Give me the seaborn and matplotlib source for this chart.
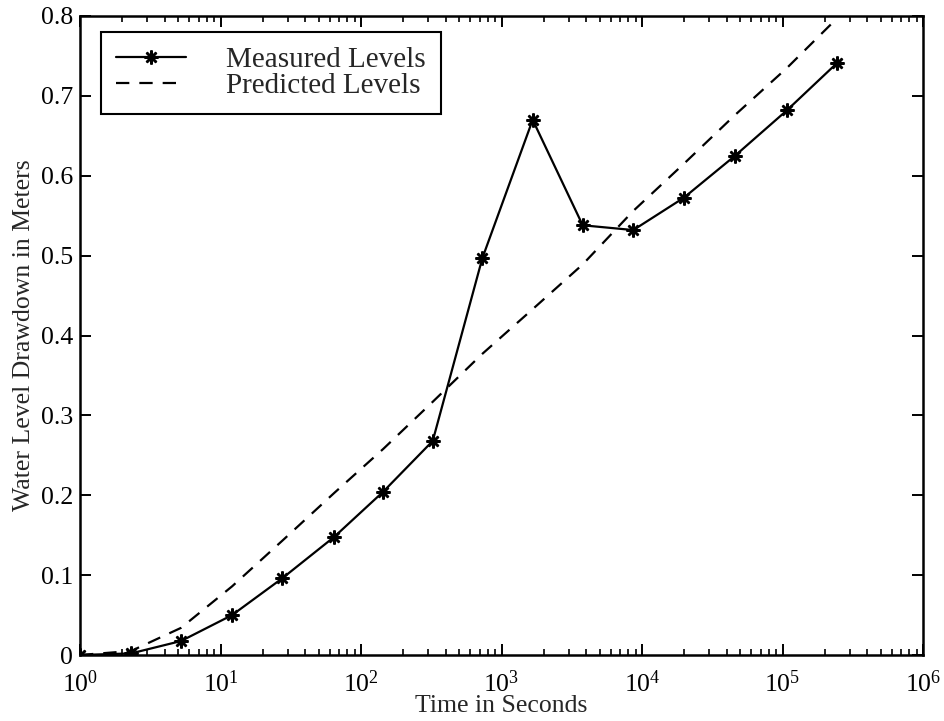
import matplotlib
matplotlib.use('Agg')
import matplotlib.pyplot as plt
import seaborn as sns
import pandas as pd

# times (s) of each reading
time_s = [1, 2.31, 5.24, 12.1, 27.5, 64.6, 144, 324, 730, 1667,
          3784, 8670, 19860, 45900, 107600, 244000]
measured = [0.0, 0.002, 0.0175, 0.050, 0.096, 0.148, 0.2045, 0.268, 0.4966,
            0.670, 0.538, 0.532, 0.5725, 0.625, 0.682, 0.741]
predicted = [0.0, 0.005, 0.034, 0.086, 0.143, 0.203, 0.258, 0.317, 0.377,
             0.433, 0.489, 0.556, 0.615, 0.676, 0.735, 0.797]

y_ticks = [0, 0.1, 0.2, 0.3, 0.4, 0.5, 0.6, 0.7, 0.8]
y_labels = ['0', '0.1', '0.2', '0.3', '0.4', '0.5', '0.6', '0.7', '0.8']

df = pd.DataFrame({'time': time_s, 'measured': measured, 'predicted': predicted})

sns.set_style('ticks')
plt.rcParams['font.family'] = ['Liberation Serif', 'DejaVu Serif']
plt.rcParams['mathtext.fontset'] = 'custom'
plt.rcParams['mathtext.rm'] = 'Liberation Serif'

fig = plt.figure(figsize=(9.44, 7.21), dpi=100)
ax = fig.add_axes([80 / 944, 66 / 721, 843 / 944, 639 / 721])

# measured: solid line with asterisk markers
sns.lineplot(data=df, x='time', y='measured', ax=ax, color='black', linewidth=1.6,
             marker=(8, 2, 0), markersize=10, markeredgewidth=1.8,
             markeredgecolor='black', label='Measured Levels')
# predicted: dashed
sns.lineplot(data=df, x='time', y='predicted', ax=ax, color='black', linewidth=1.6,
             linestyle=(0, (6, 4.5)), label='Predicted Levels')

ax.set_xscale('log')
ax.set_xlim(1, 1e6)
ax.set_ylim(0, 0.8)
ax.set_yticks(y_ticks)
ax.set_yticklabels(y_labels)

ax.tick_params(axis='both', which='both', direction='in', top=True, right=True,
               labelsize=18.5, colors='black')
ax.tick_params(axis='y', pad=5)
ax.tick_params(axis='x', pad=11)
ax.tick_params(which='major', length=8, width=1.4)
ax.tick_params(which='minor', length=4, width=1.2)
for s in ax.spines.values():
    s.set_linewidth(1.8)
    s.set_color('black')

ax.set_xlabel('Time in Seconds', fontsize=18.5, labelpad=-1)
ax.set_ylabel('Water Level Drawdown in Meters', fontsize=18.5, labelpad=4)

leg = ax.legend(loc='upper left', bbox_to_anchor=(21 / 843, 1 - 16 / 639),
                borderaxespad=0, fontsize=21, handlelength=2.4, handletextpad=1.4,
                labelspacing=0.0, numpoints=1, fancybox=False, framealpha=1,
                edgecolor='black', borderpad=0.5)
leg.get_frame().set_linewidth(1.5)

plt.savefig('out.png', dpi=100)
